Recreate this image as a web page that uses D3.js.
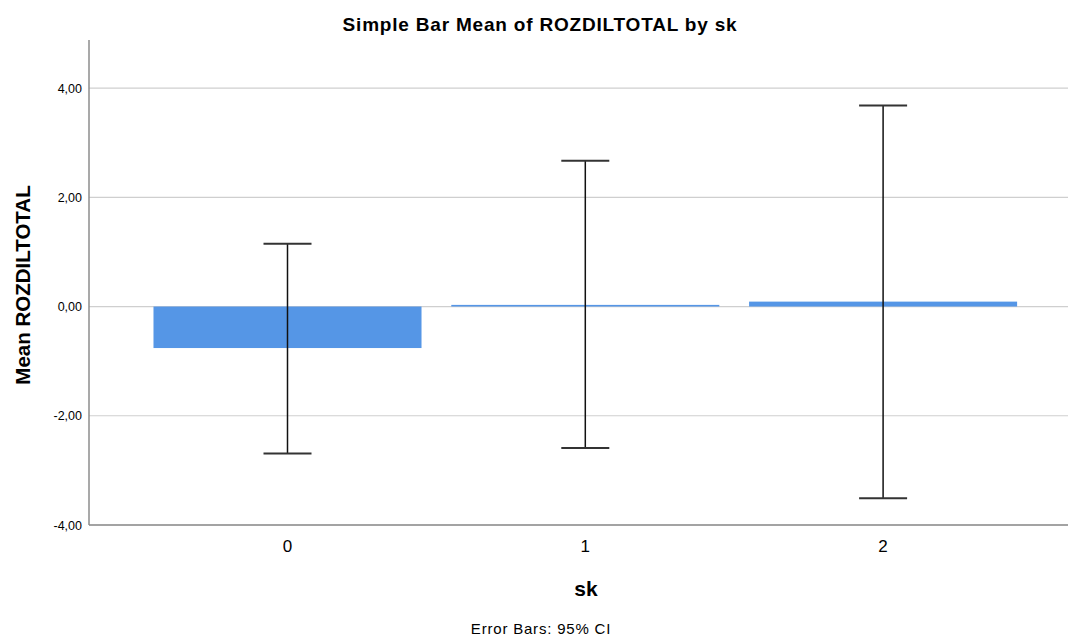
<!DOCTYPE html>
<html>
<head>
<meta charset="utf-8">
<script src="https://cdn.jsdelivr.net/npm/d3@7"></script>
<style>
body { margin: 0; background: #fff; }
text { font-family: "Liberation Sans", Arial, sans-serif; fill: #000; }
</style>
</head>
<body>
<div id="chart"></div>
<script>
// Data
var categories = ["0", "1", "2"];
var means = [-0.76, 0.03, 0.09];
var ciLow = [-2.69, -2.59, -3.51];
var ciHigh = [1.15, 2.67, 3.68];
var yTicks = [-4, -2, 0, 2, 4];

var W = 1070, H = 636;
var plotLeft = 89, plotRight = 1068, plotTop = 40, plotBottom = 525;

var svg = d3.select("#chart").append("svg")
  .attr("width", W)
  .attr("height", H);

// Scales
var x = d3.scaleBand()
  .domain(categories)
  .range([138.6, 1032])
  .paddingInner(0.1)
  .paddingOuter(0.05);

var y = d3.scaleLinear()
  .domain([-4, 4.88])
  .range([plotBottom, plotTop]);

// Gridlines
svg.append("g")
  .selectAll("line")
  .data(yTicks)
  .enter().append("line")
  .attr("x1", plotLeft)
  .attr("x2", plotRight)
  .attr("y1", function(d) { return y(d); })
  .attr("y2", function(d) { return y(d); })
  .attr("stroke", "#cfcfcf")
  .attr("stroke-width", 1.2);

// Bars
svg.append("g")
  .selectAll("rect")
  .data(categories)
  .enter().append("rect")
  .attr("x", function(d) { return x(d); })
  .attr("width", x.bandwidth())
  .attr("y", function(d, i) { return y(Math.max(0, means[i])); })
  .attr("height", function(d, i) { return Math.abs(y(means[i]) - y(0)); })
  .attr("fill", "#5596e6");

// Y axis (comma decimals, plain hyphen for minus)
var yAxis = svg.append("g")
  .attr("transform", "translate(" + plotLeft + ",0)")
  .call(d3.axisLeft(y).tickValues(yTicks).tickSize(0).tickPadding(7)
    .tickFormat(function(d) { return d.toFixed(2).replace(".", ","); }));
yAxis.select(".domain").remove();
yAxis.selectAll("text").style("font-size", "12.5px").attr("fill", "#111");
svg.append("line")
  .attr("x1", plotLeft).attr("x2", plotLeft)
  .attr("y1", plotTop).attr("y2", plotBottom)
  .attr("stroke", "#8c8c8c").attr("stroke-width", 1.5);

// X axis
var xAxis = svg.append("g")
  .attr("transform", "translate(0," + plotBottom + ")")
  .call(d3.axisBottom(x).tickSize(0).tickPadding(15));
xAxis.select(".domain").remove();
xAxis.selectAll("text").style("font-size", "17px").attr("fill", "#222");
svg.append("line")
  .attr("x1", plotLeft).attr("x2", plotRight)
  .attr("y1", plotBottom).attr("y2", plotBottom)
  .attr("stroke", "#8c8c8c").attr("stroke-width", 1.5);

// Error bars
var eb = svg.append("g").selectAll("g")
  .data(categories)
  .enter().append("g");
eb.append("line")
  .attr("x1", function(d) { return x(d) + x.bandwidth() / 2; })
  .attr("x2", function(d) { return x(d) + x.bandwidth() / 2; })
  .attr("y1", function(d, i) { return y(ciHigh[i]); })
  .attr("y2", function(d, i) { return y(ciLow[i]); })
  .attr("stroke", "#111").attr("stroke-width", 1.5);
[ciHigh, ciLow].forEach(function(arr) {
  eb.append("line")
    .attr("x1", function(d) { return x(d) + x.bandwidth() / 2 - 24; })
    .attr("x2", function(d) { return x(d) + x.bandwidth() / 2 + 24; })
    .attr("y1", function(d, i) { return y(arr[i]); })
    .attr("y2", function(d, i) { return y(arr[i]); })
    .attr("stroke", "#333").attr("stroke-width", 2);
});

// Titles
svg.append("text")
  .attr("x", 540).attr("y", 31)
  .attr("text-anchor", "middle")
  .style("font-size", "19px").style("font-weight", "bold")
  .style("letter-spacing", "0.8px")
  .text("Simple Bar Mean of ROZDILTOTAL by sk");

svg.append("text")
  .attr("transform", "translate(30,285) rotate(-90)")
  .attr("text-anchor", "middle")
  .style("font-size", "20.5px").style("font-weight", "bold")
  .text("Mean ROZDILTOTAL");

svg.append("text")
  .attr("x", 586).attr("y", 596)
  .attr("text-anchor", "middle")
  .style("font-size", "21px").style("font-weight", "bold")
  .text("sk");

svg.append("text")
  .attr("x", 541).attr("y", 634)
  .attr("text-anchor", "middle")
  .style("font-size", "15px")
  .style("letter-spacing", "0.8px")
  .attr("fill", "#222")
  .text("Error Bars: 95% CI");
</script>
</body>
</html>
